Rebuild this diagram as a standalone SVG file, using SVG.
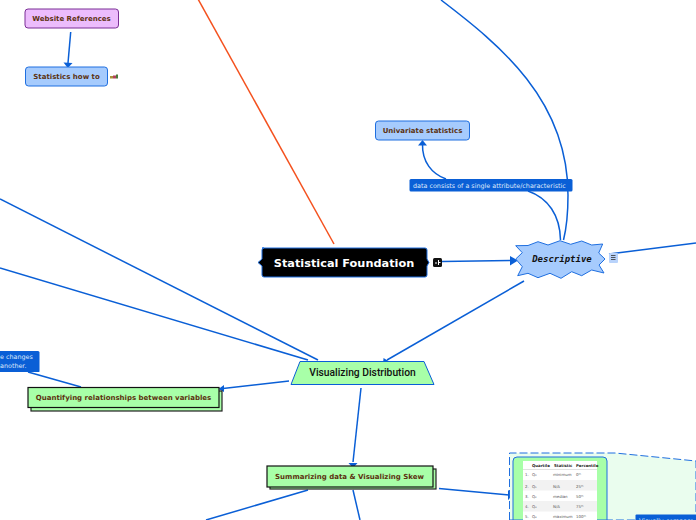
<svg xmlns="http://www.w3.org/2000/svg" width="696" height="520" viewBox="0 0 696 520">
<style>
.c{fill:none;stroke:#0a5fd6;stroke-width:1.5}
.a{fill:#0a5fd6}
.t{font-family:"DejaVu Sans",sans-serif;font-weight:700;font-size:7px;fill:#5c3210;text-anchor:middle}
.l{font-family:"DejaVu Sans",sans-serif;font-size:6.4px;fill:#dfe9fb}
.lb{fill:#0a5fd6}
.blue{fill:#a6cbfd;stroke:#1f6fe0;stroke-width:1}
.green{fill:#a8ffa8;stroke:#111;stroke-width:1.2}
.sh{fill:#a8ffa8;stroke:#222;stroke-width:1.2}
.th{font-family:"DejaVu Sans",sans-serif;font-size:3.9px;fill:#555}
.thb{font-family:"DejaVu Sans",sans-serif;font-size:3.9px;font-weight:700;fill:#222}
</style>
<rect width="696" height="520" fill="#fff"/>
<g id="connectors">
<path d="M198 -1L334 244" fill="none" stroke="#f4511e" stroke-width="1.5"/>
<path class="c" d="M70.700 32L68 63"/><path class="a" d="M63.500 62.500L72.500 63L67.800 68Z"/>
<path class="c" d="M441 0C500 45 568 100 568 195C568 215 566 230 563.500 240"/>
<path class="c" d="M560.500 240C560 215 548 198 528 191"/>
<path class="c" d="M446 179C432 174 422 162 422.500 144"/><path class="a" d="M418 145.500L427 145.500L422.500 140Z"/>
<path class="c" d="M442 261.500L511 260.500"/><path class="a" d="M510 256L510 265.500L518 260.500Z"/>
<path class="c" d="M524 281L387 360"/><path class="a" d="M383 364.500L383.500 358L390 362Z"/>
<path class="c" d="M0 199L318 360"/>
<path class="c" d="M0 268L308 360"/>
<path class="c" d="M289 381L223 388.500"/><path class="a" d="M218.500 389L224 385L224 392Z"/>
<path class="c" d="M28 372L81 387"/>
<path class="c" d="M361 388L353 462"/><path class="a" d="M348.500 463L357.500 463L353 468Z"/>
<path class="c" d="M308 490L206 520"/>
<path class="c" d="M353 490L360 520"/>
<path class="c" d="M439 488.500L509 495"/><path class="a" d="M508 490L508 500L514 495.500Z"/>
<path class="c" d="M608 496C640 493 650 510 675 516"/>
<path class="c" d="M609 254L696 243"/>
</g>
<g id="website-references"><rect x="25" y="9" width="93.500" height="19" rx="3" fill="#ecbcfc" stroke="#7a2f96" stroke-width="1"/><text class="t" x="71.500" y="21">Website References</text></g>
<g id="statistics-how-to"><rect x="25.500" y="67" width="82" height="19" rx="3" class="blue"/><text class="t" x="66.500" y="79">Statistics how to</text>
<rect x="110" y="76" width="3" height="2.500" fill="#a8913a"/><rect x="113" y="75.500" width="3" height="3" fill="#b0405a"/><rect x="116" y="74.500" width="2" height="4" fill="#4a7a3a"/></g>
<g id="univariate-statistics"><rect x="375.500" y="121" width="94" height="19" rx="3" class="blue"/><text class="t" x="422.500" y="133">Univariate statistics</text></g>
<g id="label-univariate"><rect x="409.500" y="179" width="163" height="12.500" rx="1.500" class="lb"/><text class="l" x="413" y="188">data consists of a single attribute/characteristic</text></g>
<g id="statistical-foundation"><path d="M262 248H425Q427 248 427 250V259L429 262.500L427 266V275Q427 277 425 277H264Q262 277 262 275V266L258 262.500L262 259V250Q262 248 264 248Z" fill="#000" stroke="#1f6fe0" stroke-width="1"/><text x="344" y="267" font-family="DejaVu Sans,sans-serif" font-weight="700" font-size="11.300" fill="#fff" text-anchor="middle">Statistical Foundation</text>
<rect x="433" y="258" width="9" height="9" rx="1.500" fill="#111"/><path d="M435 263H437M438.500 260V265M438.500 262.500H440.500" stroke="#fff" fill="none" stroke-width="1"/></g>
<g id="descriptive"><path d="M515.700 245.700L528 245.500 538 241.700 548 245 560 240.700 570.700 244.300 581.700 241 591.700 245 602.700 244 598.700 253 605 259 599 265 604 273 591.700 270 581.700 275.700 571.700 271.700 561 278.300 550 273.300 538 277.700 528 273.300 517.700 275.700 522.300 266.700 515.700 259 522.300 252.700Z" fill="#a6cbfd" stroke="#1f6fe0" stroke-width="1"/><text x="562" y="262" font-family="DejaVu Sans Mono,monospace" font-style="oblique" font-size="9" font-weight="700" fill="#111" text-anchor="middle">Descriptive</text>
<rect x="609" y="253" width="9" height="10" rx="1" fill="#b9d3fb"/><path d="M611 255.500H615.500M611 257.500H615.500M611 259.500H615.500" stroke="#333" stroke-width=".8"/></g>
<g id="visualizing-distribution"><path d="M300 361.500H424L434 384.500H291Z" fill="#a8ffa8" stroke="#0a5fd6" stroke-width="1"/><text x="362.500" y="376" font-family="Roboto,sans-serif" font-size="10.300" font-weight="500" fill="#111" text-anchor="middle">Visualizing Distribution</text></g>
<g id="label-changes"><path d="M0 351H38Q39.500 351 39.500 352.500V371.500Q39.500 372 38 372H0Z" class="lb"/><text class="l" x="0" y="359">e changes</text><text class="l" x="0" y="367.500">another.</text></g>
<g id="quantifying"><rect x="31" y="391" width="191" height="20" class="sh"/><rect x="28" y="387.500" width="191" height="20" class="green"/><text class="t" x="123.500" y="400">Quantifying relationships between variables</text></g>
<g id="summarizing"><rect x="270" y="469" width="166" height="20" class="sh"/><rect x="267" y="466" width="166" height="21" class="green"/><text class="t" x="349.500" y="479">Summarizing data &amp; Visualizing Skew</text></g>
<g id="quartiles">
<path d="M509.500 520V453H615L696 461V520Z" fill="#eafdee" stroke="#1f6fe0" stroke-width="1" stroke-dasharray="8 3"/>
<path d="M513 520V461Q513 457 517 457H603Q607 457 607 461V520Z" fill="#a8ffa8" stroke="#1f6fe0" stroke-width="1"/>
<rect x="523" y="461" width="74" height="59" fill="#fff"/>
<rect x="523" y="480" width="74" height="10.500" fill="#f2f2f2"/><rect x="523" y="501" width="74" height="10.500" fill="#f2f2f2"/>
<path d="M523 469.500H597" stroke="#ccc" stroke-width=".6"/>
<text class="thb" x="532" y="466.500">Quartile</text><text class="thb" x="554" y="466.500">Statistic</text><text class="thb" x="576" y="466.500">Percentile</text>
<g>
<text class="th" x="525" y="476">1.</text><text class="th" x="532" y="476">Q₀</text><text class="th" x="553" y="476">minimum</text><text class="th" x="576" y="476">0ᵗʰ</text>
<text class="th" x="525" y="487.500">2.</text><text class="th" x="532" y="487.500">Q₁</text><text class="th" x="553" y="487.500">N/A</text><text class="th" x="576" y="487.500">25ᵗʰ</text>
<text class="th" x="525" y="497.500">3.</text><text class="th" x="532" y="497.500">Q₂</text><text class="th" x="553" y="497.500">median</text><text class="th" x="576" y="497.500">50ᵗʰ</text>
<text class="th" x="525" y="508">4.</text><text class="th" x="532" y="508">Q₃</text><text class="th" x="553" y="508">N/A</text><text class="th" x="576" y="508">75ᵗʰ</text>
<text class="th" x="525" y="518">5.</text><text class="th" x="532" y="518">Q₄</text><text class="th" x="553" y="518">maximum</text><text class="th" x="576" y="518">100ᵗʰ</text>
</g>
</g>
<g id="label-visually"><rect x="635.500" y="514.500" width="61" height="6.500" rx="1" class="lb"/><text class="l" x="639" y="522.500">Visually compare</text></g>
</svg>
